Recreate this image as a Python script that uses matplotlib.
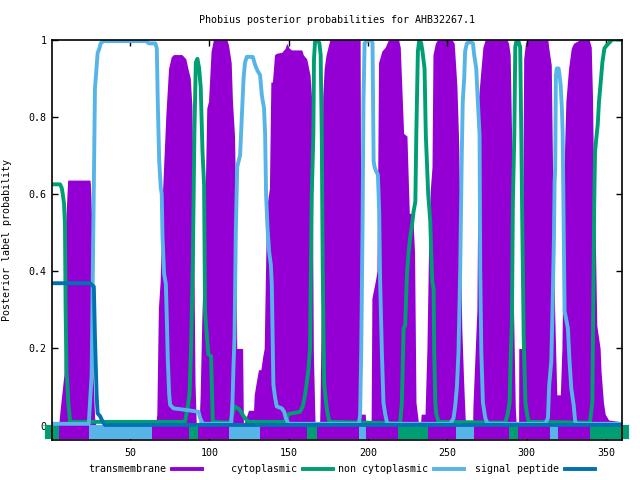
import matplotlib
matplotlib.use('Agg')
import matplotlib.pyplot as plt
from matplotlib.lines import Line2D

plt.rcParams['font.family'] = ['DejaVu Sans Mono']
plt.rcParams['font.size'] = 7.2

# colours of the four labels
c_tm = '#9400D3'
c_cyt = '#009E73'
c_non = '#56B4E9'
c_sig = '#0072B2'

seq_len = 360

# transmembrane posterior (residue, probability)
tm_pos = [1, 5, 5.9, 8.4, 9.4, 10.7, 24.7, 25, 25.9, 26.7, 27.7, 28.5,
          66, 66.9, 67.9, 69, 70.5, 72.6, 74.3, 76, 77.4, 82.7, 85.2, 86.5, 88, 89, 90, 91, 91.8,
          93.5, 94.2, 95.3, 96.9, 98.4, 99.5, 101.1, 102.6, 111, 112.1, 113.8, 114.6, 115.9, 116.5, 117.3, 121, 121.5,
          124.7, 127.9, 128.3, 129.5, 131, 132.5, 133.7, 134.6, 135.8, 136.7, 137.9, 138.8, 139.8, 141.1, 142.1,
          145.7, 147.8, 148.8, 150.5, 152, 158.3, 159.3, 161.4, 163.5, 164.6, 165.6, 166.7,
          169.5, 169.8, 170.6, 171.5, 172.4, 173.6, 175.1, 176.1, 195.1, 195.8, 198.3, 198.8,
          202, 202.5, 204.6, 205.7, 206.7, 208.8, 210.9, 213, 219.3, 220.4, 222.5, 224.6, 226.1, 228.2, 229.4, 230.3, 231.5, 232,
          233, 233.6, 236, 237.2, 238.2, 239.3, 240.4, 241, 242.5, 243.9, 253, 254.4, 256.1, 257.1, 258.2, 259.2, 260.3, 261.3, 262,
          266, 266.2, 267.7, 268.7, 269.8, 270.8, 272.5, 274, 287.6, 288.7, 289.7, 290.8, 291.8, 292.9, 293.5,
          295, 295.1, 297.1, 298.2, 299.3, 300.5, 313.4, 314.3, 315.6, 316.4, 317.7, 319.1, 321.3, 322.3, 324, 324.8,
          326.5, 328.2, 329.6, 333.9, 339.5, 340.8, 341.6, 342.4, 343.3, 344.3, 346.4, 347, 348.5, 349.6, 351.7, 360]
tm_prob = [0, 0, 0.04, 0.135, 0.525, 0.636, 0.636, 0.628, 0.53, 0.13, 0.02, 0,
           0, 0.03, 0.305, 0.373, 0.606, 0.805, 0.925, 0.955, 0.961, 0.961, 0.95, 0.925, 0.9, 0.83, 0.55, 0.11, 0,
           0, 0.075, 0.28, 0.49, 0.822, 0.84, 0.969, 1.0, 1.0, 0.986, 0.94, 0.84, 0.75, 0.6, 0.2, 0.2, 0,
           0.04, 0.04, 0.08, 0.11, 0.145, 0.145, 0.18, 0.2, 0.49, 0.58, 0.615, 0.89, 0.89, 0.96, 0.964,
           0.967, 0.977, 0.99, 0.977, 0.973, 0.973, 0.96, 0.95, 0.908, 0.84, 0.19, 0,
           0, 0.05, 0.3, 0.85, 0.925, 0.96, 0.985, 1.0, 1.0, 0.03, 0.03, 0,
           0, 0.33, 0.373, 0.4, 0.94, 0.97, 0.98, 1.0, 1.0, 0.98, 0.757, 0.75, 0.55, 0.55, 0.45, 0.06, 0.02, 0,
           0, 0.03, 0.03, 0.2, 0.45, 0.61, 0.67, 0.96, 0.99, 1.0, 1.0, 0.99, 0.88, 0.75, 0.5, 0.25, 0.12, 0.02, 0,
           0, 0.05, 0.2, 0.3, 0.85, 0.9, 0.98, 1.0, 1.0, 0.99, 0.96, 0.7, 0.3, 0.05, 0,
           0, 0.2, 0.2, 0.95, 0.99, 1.0, 1.0, 0.97, 0.934, 0.667, 0.3, 0.08, 0.08, 0.2, 0.72, 0.84,
           0.925, 0.977, 0.99, 1.0, 1.0, 0.98, 0.85, 0.6, 0.5, 0.26, 0.2, 0.14, 0.06, 0.03, 0.015, 0.01]

# cytoplasmic posterior
cyt_pos = [1, 5.9, 7, 7.6, 8.4, 9, 9.4, 10, 10.5, 11.1, 12.2, 84.7, 86.4, 87.5, 88.5, 89.6, 90.6, 91.5,
           92.5, 93.6, 94.6, 95.7, 96.7, 97.3, 98.4, 99.4, 101.1, 102.2, 113, 114.6, 115.9, 118, 119.4, 121.5,
           124.7, 148, 149.9, 152, 157.2, 158.9, 160.4, 161.4, 162.5, 163.5, 164.6, 165.6, 166, 166.7, 168.2,
           169.4, 170.2, 170.9, 171.5, 172.4, 173.6, 174.4, 175.7, 220, 220.4, 221.4, 222.5, 223.5, 224.6,
           225.7, 226.7, 227.8, 228.8, 229.9, 230.5, 231.5, 232.4, 233.6, 234.4, 235.7, 236.5, 238, 239.3,
           239.9, 240.6, 241.4, 241.8, 242.5, 243.1, 244.5, 286.6, 288.1, 289.3, 290.2, 290.8, 291.4, 292.3,
           292.9, 293.5, 295, 296, 296.7, 297.3, 298.2, 299.3, 300.3, 301.3, 340, 340.6, 341.5, 342.1, 342.7,
           343.2, 343.8, 344.9, 345.7, 347, 347.8, 349.1, 350.6, 352.7, 354.1, 360]
cyt_prob = [0.625, 0.625, 0.615, 0.6, 0.575, 0.52, 0.3, 0.14, 0.11, 0.06, 0.01, 0.01, 0.05, 0.08, 0.2, 0.42, 0.76, 0.94,
            0.95, 0.925, 0.874, 0.71, 0.624, 0.296, 0.236, 0.185, 0.18, 0.01, 0.008, 0.03, 0.05, 0.045, 0.04, 0.025,
            0.01, 0.01, 0.03, 0.032, 0.036, 0.05, 0.08, 0.11, 0.145, 0.2, 0.598, 0.753, 0.95, 0.995, 1.0,
            0.99, 0.96, 0.753, 0.408, 0.11, 0.06, 0.035, 0.01, 0.006, 0.01, 0.06, 0.252, 0.26, 0.39,
            0.451, 0.49, 0.52, 0.555, 0.58, 0.753, 0.969, 1.0, 0.99, 0.969, 0.925, 0.753, 0.6, 0.53,
            0.45, 0.373, 0.355, 0.19, 0.06, 0.03, 0.01, 0.008, 0.03, 0.06, 0.2, 0.27, 0.58, 0.753,
            0.98, 0.994, 0.994, 0.98, 0.753, 0.53, 0.23, 0.06, 0.03, 0.01, 0.008, 0.03, 0.06, 0.33, 0.58,
            0.71, 0.736, 0.78, 0.84, 0.9, 0.94, 0.977, 0.985, 0.994, 1.0, 1.0]

# non cytoplasmic posterior
non_pos = [1, 24, 24.8, 25.8, 26.9, 27.9, 29, 29.6, 30.7, 31.5, 33.2, 60, 62, 66, 66.9, 67.5, 68.4, 69.4, 70,
           70.5, 71.5, 72.6, 73.2, 73.8, 74.7, 75.3, 77.4, 86.9, 93.2, 94.2, 95.3, 96, 113.8, 114.6, 115.2,
           115.9, 116.7, 117.6, 119.4, 120, 121.1, 121.6, 122.5, 123.6, 127.4, 128.9, 130.3, 132, 133.1, 134.5,
           135.2, 135.8, 136.7, 137.7, 138.8, 139.4, 140.4, 141.5, 142.5, 145.7, 147.2, 148.2, 149.9, 194,
           194.5, 195.1, 195.8, 196.6, 197.2, 197.9, 199.3, 202.1, 202.9, 203.6, 204.2, 205, 206.3, 207.1,
           207.7, 208.8, 209.8, 210.9, 211.9, 212.5, 251.9, 254, 255, 256.1, 257.1, 258.2, 259.2, 259.8,
           260.7, 261.3, 262.4, 264.5, 266.2, 267, 268.3, 269.1, 270.4, 270.8, 271.5, 272.5, 274, 275.4,
           311.8, 313.5, 314.3, 315.6, 316.4, 317.3, 317.7, 318.1, 318.5, 319.1, 320.2, 320.8, 321.5, 322.3,
           322.8, 323.4, 324, 324.8, 326.1, 327, 328.2, 329.7, 330.7, 331.8, 360]
non_prob = [0.005, 0.005, 0.06, 0.13, 0.51, 0.873, 0.935, 0.965, 0.977, 0.99, 0.996, 0.996, 0.99, 0.99, 0.977, 0.84, 0.685, 0.615, 0.6,
            0.488, 0.393, 0.367, 0.28, 0.175, 0.08, 0.054, 0.045, 0.04, 0.036, 0.02, 0.01, 0.005, 0.005, 0.06, 0.148,
            0.23, 0.5, 0.67, 0.7, 0.753, 0.85, 0.9, 0.94, 0.955, 0.955, 0.934, 0.92, 0.908, 0.856, 0.822,
            0.753, 0.598, 0.512, 0.451, 0.417, 0.365, 0.106, 0.072, 0.05, 0.045, 0.036, 0.02, 0.005, 0.005,
            0.01, 0.03, 0.2, 0.51, 0.84, 0.99, 0.996, 1.0, 0.99, 0.685, 0.67, 0.66, 0.65, 0.555,
            0.373, 0.19, 0.06, 0.03, 0.01, 0.005, 0.005, 0.02, 0.05, 0.1, 0.19, 0.408, 0.71, 0.84,
            0.9, 0.97, 0.99, 0.994, 0.99, 0.96, 0.925, 0.856, 0.753, 0.408, 0.19, 0.06, 0.02, 0.005,
            0.005, 0.02, 0.106, 0.166, 0.305, 0.49, 0.632, 0.667, 0.908, 0.925, 0.925, 0.908, 0.882, 0.822,
            0.753, 0.53, 0.296, 0.28, 0.252, 0.175, 0.097, 0.054, 0.01, 0.005, 0.005]

# signal peptide posterior
sig_pos = [1, 24.8, 25.8, 27.2, 27.9, 29, 29.6, 31.1, 32.8, 34.2, 360]
sig_prob = [0.369, 0.369, 0.365, 0.36, 0.23, 0.075, 0.032, 0.025, 0.01, 0.002, 0.002]

# predicted topology band under the axis
topo_start = [1, 5.2, 24.3, 63.7, 87.2, 92.7, 112.7, 132, 161.5, 167.8, 194.1, 198.9, 218.7,
              237.6, 255.7, 266.6, 288.7, 294.6, 314.5, 319.6, 339.8]
topo_end = [5.2, 24.3, 63.7, 87.2, 92.7, 112.7, 132, 161.5, 167.8, 194.1, 198.9, 218.7, 237.6,
            255.7, 266.6, 288.7, 294.6, 314.5, 319.6, 339.8, 360]
topo_kind = ['cyt', 'tm', 'non', 'tm', 'cyt', 'tm', 'non', 'tm', 'cyt', 'tm', 'non', 'tm', 'cyt',
             'tm', 'non', 'tm', 'cyt', 'tm', 'non', 'tm', 'cyt']
kind_col = {'tm': c_tm, 'cyt': c_cyt, 'non': c_non}

fig = plt.figure(figsize=(6.4, 4.8), dpi=100)
ax = fig.add_axes([0.0817, 0.0833, 0.8897, 0.8344])

ax.fill_between(tm_pos, 0, tm_prob, color=c_tm, linewidth=0, zorder=1)

band_y = -0.017
# outer segments first with square caps so they stick out past the border
for i in [0, len(topo_kind) - 1]:
    ax.plot([topo_start[i], topo_end[i]], [band_y, band_y], color=kind_col[topo_kind[i]],
            lw=10.2, solid_capstyle='projecting', clip_on=False, zorder=2)
for i in range(1, len(topo_kind) - 1):
    ax.plot([topo_start[i], topo_end[i]], [band_y, band_y], color=kind_col[topo_kind[i]],
            lw=10.2, solid_capstyle='butt', clip_on=False, zorder=2)

ax.plot(cyt_pos, cyt_prob, color=c_cyt, lw=2.8, zorder=3)
ax.plot(non_pos, non_prob, color=c_non, lw=2.8, zorder=4)
ax.plot(sig_pos, sig_prob, color=c_sig, lw=2.8, zorder=5)

ax.set_xlim(1, seq_len)
ax.set_ylim(-0.037, 1.0)
ax.set_xticks([50, 100, 150, 200, 250, 300, 350])
ax.set_yticks([0, 0.2, 0.4, 0.6, 0.8, 1])
ax.set_yticklabels(['0', '0.2', '0.4', '0.6', '0.8', '1'])
ax.tick_params(direction='in', length=4, width=1, top=True, right=True, labelsize=7.2)
ax.tick_params(axis='x', pad=6)
ax.tick_params(axis='y', pad=4)
for sp in ax.spines.values():
    sp.set_linewidth(1.2)
    sp.set_zorder(6)

ax.set_ylabel('Posterior label probability', fontsize=7.2)
ax.yaxis.set_label_coords(-0.071, 0.5)
fig.text(0.5266, 1 - 20 / 480, 'Phobius posterior probabilities for AHB32267.1',
         ha='center', va='center', fontsize=7.2)

# key along the bottom: label then sample line
leg_names = ['transmembrane', 'cytoplasmic', 'non cytoplasmic', 'signal peptide']
leg_cols = [c_tm, c_cyt, c_non, c_sig]
leg_y = 1 - 469 / 480
for k in range(4):
    x_end = (202 + k * 131) / 640
    fig.text(x_end - 36 / 640, leg_y, leg_names[k], ha='right', va='center', fontsize=7.2)
    fig.add_artist(Line2D([x_end - 30 / 640, x_end], [leg_y, leg_y], color=leg_cols[k], lw=2.8))

fig.savefig('out.png', dpi=100)
